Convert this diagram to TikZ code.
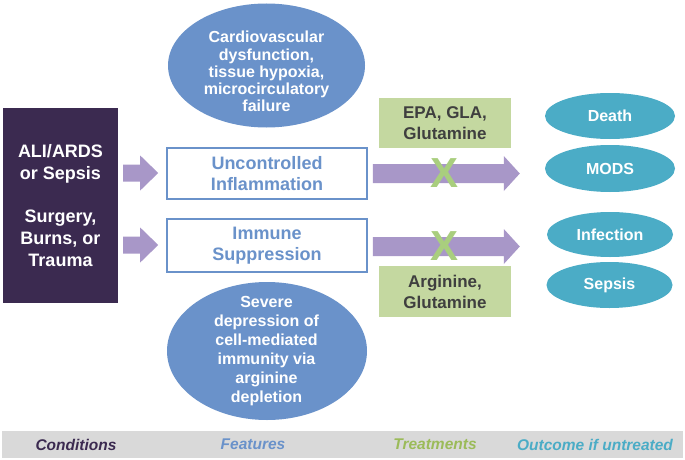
\documentclass[tikz,border=0pt]{standalone}
\usepackage{fontspec}
\setmainfont{Liberation Sans}
\usetikzlibrary{shapes.geometric,calc}
\definecolor{darkpurple}{HTML}{3B2A50}
\definecolor{lavender}{HTML}{A897C8}
\definecolor{featblue}{HTML}{6A92CA}
\definecolor{treatgreen}{HTML}{C4D8A0}
\definecolor{xgreen}{HTML}{A9CE7E}
\definecolor{treattext}{HTML}{3F3F3F}
\definecolor{labgreen}{HTML}{9BBB59}
\definecolor{teal}{HTML}{4BACC6}
\definecolor{barg}{HTML}{D9D9D9}
\newcommand{\fatarrow}[5]{%
  \fill[lavender] ($(#1)+(0,-#4)$) -- ($(#2)+(-#3,-#4)$) -- ($(#2)+(-#3,-#5)$) -- (#2)
    -- ($(#2)+(-#3,#5)$) -- ($(#2)+(-#3,#4)$) -- ($(#1)+(0,#4)$) -- cycle;}
\begin{document}
\begin{tikzpicture}[x=1pt,y=-1pt,
  condbox/.style={rectangle,fill=darkpurple,text=white,inner sep=0pt,align=center,
    font=\fontsize{18}{22}\selectfont\bfseries},
  featbox/.style={rectangle,draw=featblue,line width=1.6pt,fill=white,text=featblue,inner sep=0pt,
    minimum width=200,align=center,font=\fontsize{18}{21.5}\selectfont\bfseries},
  featell/.style={ellipse,fill=featblue,inner sep=0pt},
  elltext/.style={text=white,align=center,inner sep=0pt},
  treatbox/.style={rectangle,fill=treatgreen,text=treattext,inner sep=0pt,minimum width=132,
    align=center,font=\fontsize{17}{21}\selectfont\bfseries},
  outell/.style={ellipse,fill=teal,text=white,inner sep=0pt,font=\fontsize{16}{19}\selectfont\bfseries},
  xmark/.style={text=xgreen,inner sep=0pt,font=\fontsize{42}{42}\selectfont\bfseries},
  barlabel/.style={inner sep=0pt,font=\fontsize{15.5}{18}\selectfont\bfseries\itshape}]
\useasboundingbox (0,0) rectangle (685,460);
\fill[white] (0,0) rectangle (685,460);

% Conditions
\node[condbox,minimum width=115,minimum height=195] (cond) at (60.5,205.5)
  {ALI/ARDS\\or Sepsis\\[21pt]Surgery,\\Burns, or\\Trauma};

% Features
\node[featell,minimum width=197,minimum height=124] (topE) at (266.5,65.5) {};
\node[elltext,font=\fontsize{16}{17.2}\selectfont\bfseries] (topEt) at (266.5,71.5)
  {Cardiovascular\\dysfunction,\\tissue hypoxia,\\microcirculatory\\failure};
\node[featbox,minimum height=51] (feat1) at (267,173.5) {Uncontrolled\\Inflammation};
\node[featbox,minimum height=53] (feat2) at (267,245.5) {Immune\\Suppression};
\node[featell,minimum width=200,minimum height=138] (botE) at (267,351) {};
\node[elltext,font=\fontsize{16}{19}\selectfont\bfseries] (botEt) at (266.5,351)
  {Severe\\depression of\\cell-mediated\\immunity via\\arginine\\depletion};

% Treatments
\node[treatbox,minimum height=50] (treat1) at (445,123) {EPA, GLA,\\Glutamine};
\node[treatbox,minimum height=51] (treat2) at (445,291.5) {Arginine,\\Glutamine};

% Outcomes
\node[outell,minimum width=130,minimum height=46] (death) at (610,116) {Death};
\node[outell,minimum width=130,minimum height=47] (mods) at (610,168.5) {MODS};
\node[outell,minimum width=126,minimum height=45] (infect) at (610,234.5) {Infection};
\node[outell,minimum width=126,minimum height=46] (sepsis) at (609.5,285) {Sepsis};

% Arrows
\coordinate (s1a) at ($(cond.east |- feat1.west)+(5,-0.5)$);
\coordinate (s1b) at ($(feat1.west)+(-8,-0.5)$);
\coordinate (s2a) at ($(cond.east |- feat2.west)+(5,-0.5)$);
\coordinate (s2b) at ($(feat2.west)+(-8,-0.5)$);
\fatarrow{s1a}{s1b}{18}{8.5}{17.5}
\fatarrow{s2a}{s2b}{18}{8.5}{17.5}
\coordinate (b1a) at ($(feat1.east)+(5,0)$);
\coordinate (b1b) at ($(feat1.east)+(152,0)$);
\coordinate (b2a) at ($(feat2.east)+(5,1)$);
\coordinate (b2b) at ($(feat2.east)+(152,1)$);
\fatarrow{b1a}{b1b}{16}{9.5}{17.5}
\fatarrow{b2a}{b2b}{16}{9.5}{17.5}
\node[xmark] (x1) at (445,173) {X};
\node[xmark] (x2) at (445,246) {X};

% Bottom bar
\fill[barg] (2,431) rectangle (683,458);
\node[barlabel,text=darkpurple] (lcond) at (76,444.5) {Conditions};
\node[barlabel,text=featblue] (lfeat) at (253,444.5) {Features};
\node[barlabel,text=labgreen] (ltreat) at (435,444.5) {Treatments};
\node[barlabel,text=teal] (lout) at (595,444.5) {Outcome if untreated};
\end{tikzpicture}
\end{document}
